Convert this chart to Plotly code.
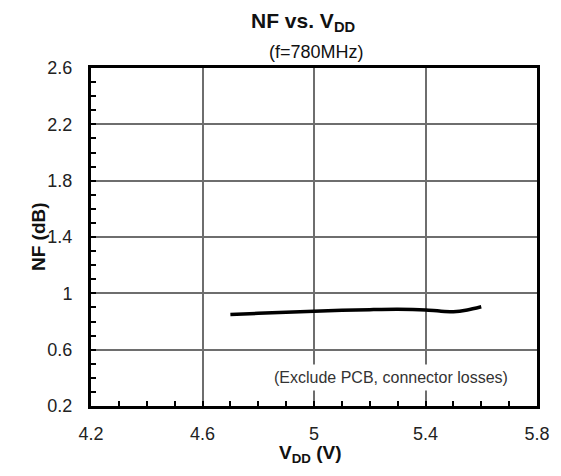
import plotly.graph_objects as go

vdd = [4.7, 4.8, 4.9, 5.0, 5.1, 5.2, 5.3, 5.4, 5.45, 5.5, 5.55, 5.6]
nf = [0.850, 0.858, 0.866, 0.873, 0.879, 0.884, 0.887, 0.882, 0.874, 0.870, 0.882, 0.905]

x_ticks = [4.2, 4.6, 5.0, 5.4, 5.8]
x_tick_labels = ["4.2", "4.6", "5", "5.4", "5.8"]
y_ticks = [0.2, 0.6, 1.0, 1.4, 1.8, 2.2, 2.6]
y_tick_labels = ["0.2", "0.6", "1", "1.4", "1.8", "2.2", "2.6"]

FONT = "Liberation Sans, Arial, sans-serif"
W, H = 561, 476
L, R, T, B = 91, 24, 68, 70
pw, ph = W - L - R, H - T - B


def px2paper(px, py):
    return (px - L) / pw, (H - py - B) / ph


fig = go.Figure()
fig.add_trace(go.Scatter(
    x=vdd, y=nf, mode="lines",
    line=dict(color="black", width=3.5, shape="spline", smoothing=0.8),
    showlegend=False, hoverinfo="skip",
))

axis_common = dict(
    showline=True, linecolor="black", linewidth=3, mirror=True,
    showgrid=True, gridcolor="#6e6e6e", gridwidth=1.5,
    zeroline=False,
    ticks="inside", ticklen=5, tickwidth=2, tickcolor="black",
    tickfont=dict(family=FONT, size=18, color="#222"),
)

fig.update_xaxes(
    range=[4.2, 5.8], tickvals=x_ticks, ticktext=x_tick_labels,
    minor=dict(dtick=0.1, ticks="inside", ticklen=5, tickwidth=2, tickcolor="black", showgrid=False),
    ticklabelstandoff=9,
    **axis_common,
)
fig.update_yaxes(
    range=[0.2, 2.6], tickvals=y_ticks, ticktext=y_tick_labels,
    minor=dict(dtick=0.1, ticks="inside", ticklen=5, tickwidth=2, tickcolor="black", showgrid=False),
    ticklabelstandoff=12,
    **axis_common,
)

fig.add_annotation(
    text="(Exclude PCB, connector losses)", x=5.277, y=0.40, xref="x", yref="y",
    showarrow=False, bgcolor="white", borderpad=4,
    font=dict(family=FONT, size=16, color="#333"),
)

texts = [
    ("<b>NF vs. V<sub>DD</sub></b>", 303, 22, 21, 0),
    ("(f=780MHz)", 316, 52, 18, 0),
    ("<b>V<sub>DD</sub> (V)</b>", 310, 454, 19, 0),
    ("<b>NF (dB)</b>", 38, 237, 19, -90),
]
for txt, px, py, size, ang in texts:
    ax, ay = px2paper(px, py)
    fig.add_annotation(
        text=txt, x=ax, y=ay, xref="paper", yref="paper",
        xanchor="center", yanchor="middle", showarrow=False, textangle=ang,
        font=dict(family=FONT, size=size, color="#111"),
    )

fig.update_layout(
    width=W, height=H,
    margin=dict(l=L, r=R, t=T, b=B),
    paper_bgcolor="white", plot_bgcolor="white",
)

fig.write_html(
    "out.html",
    config={"displayModeBar": False},
    post_script="document.body.style.margin='0';document.body.style.padding='0';",
)
